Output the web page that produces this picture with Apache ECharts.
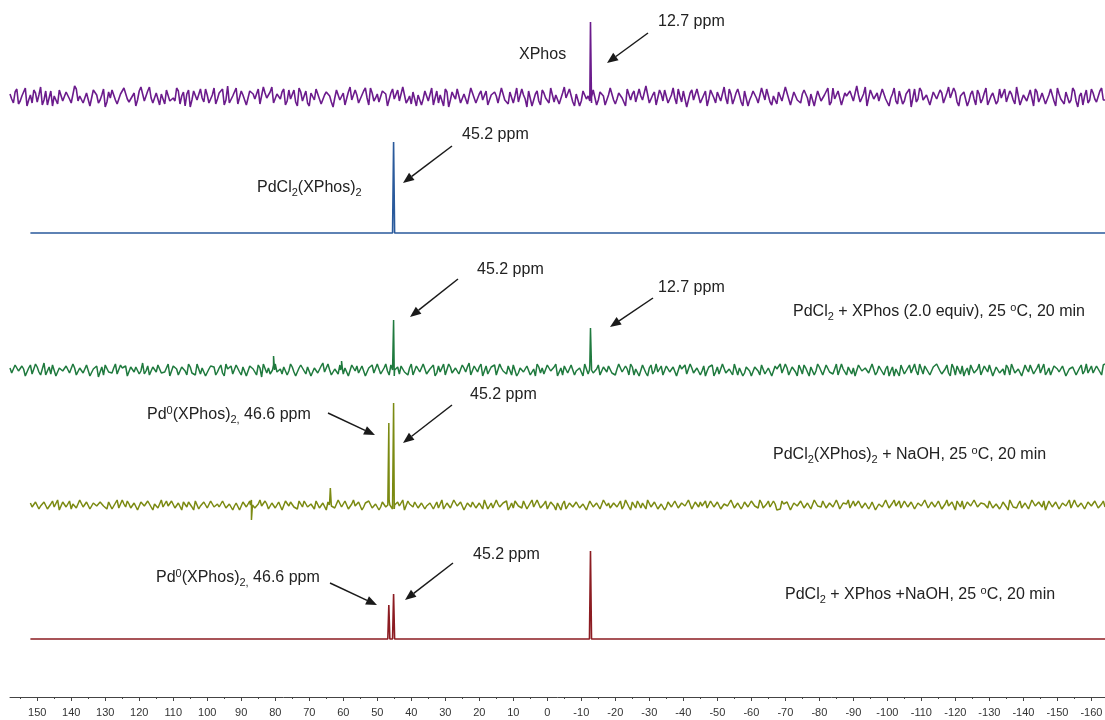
<!DOCTYPE html>
<html><head><meta charset="utf-8">
<script src="https://cdn.jsdelivr.net/npm/echarts@6/dist/echarts.min.js"></script>
<style>html,body{margin:0;padding:0;background:#fff}#c{width:1105px;height:720px}</style>
</head><body><div id="c"></div>
<script>
// ---- axis ticks (ppm) ----
const xTickLabels = [150,140,130,120,110,100,90,80,70,60,50,40,30,20,10,0,-10,-20,-30,-40,-50,-60,-70,-80,-90,-100,-110,-120,-130,-140,-150,-160];
const xMinorTicks = [155,145,135,125,115,105,95,85,75,65,55,45,35,25,15,5,-5,-15,-25,-35,-45,-55,-65,-75,-85,-95,-105,-115,-125,-135,-145,-155];

// ---- baseline noise: A = values at whole ppm from start, B = values half a ppm further ----
const purpleStart = 158;
const purpleNoiseA = [
3,-6,8,-4,5,-9,2,7,-5,10,-3,-8,6,1,-7,9,-2,4,-6,11,
-4,3,-8,6,-1,9,-6,2,-10,5,7,-3,-7,4,8,-5,1,-9,6,3,
-2,10,-6,4,-8,2,7,-4,-1,9,-7,5,3,-10,6,-3,8,-5,2,-6,
9,-2,4,-8,11,-4,1,-7,6,3,-9,5,-2,8,-6,4,-3,10,-7,2,
5,-8,7,-1,-5,9,-4,6,-9,3,8,-2,-6,5,1,-10,7,-3,4,-7,
10,-5,2,-8,6,-1,9,-4,3,-6,8,-9,4,-2,7,-5,11,-3,-7,5,
2,-8,6,-4,9,-1,-6,3,8,-10,5,-2,7,-4,1,-8,10,-6,3,-3,
6,-9,4,1,-7,8,-2,5,-6,9,-4,2,-10,7,-3,6,-8,4,-1,9,
-5,3,-7,10,-2,6,-9,4,-4,8,1,-6,7,-3,5,-8,2,9,-7,4,
-1,-9,6,3,-5,8,-3,11,-6,2,-8,7,-4,5,-2,9,-7,1,6,-10,
4,-3,8,-6,2,-9,7,-1,5,-4,10,-7,3,-2,8,-5,6,-9,1,4,
-6,9,-3,7,-8,2,5,-4,10,-2,-7,6,-5,3,8,-9,4,-1,7,-6,
2,-8,9,-3,5,-7,1,6,-4,11,-5,3,-9,7,-2,4,-6,8,-3,-1,
9,-7,5,-4,2,-10,8,-2,6,-5,3,-8,7,-1,4,-6,10,-3,5,-9,
2,7,-4,6,-8,3,-2,9,-6,4,-7,8,1,-5,6,-3,10,-8,2,-4,
7,-9,5,-1,3,-6,8,-4,9,-2,-7,5,-3,6,-10,4,1,-6,8,-2,
-5,9,-3,6,-8,2,4,-7,10,-4,3,-6,7,-1,-9,5,2,-4,8,-6];
const purpleNoiseB = [
-2,5,-7,1,9,-3,-6,4,2,-8,6,-1,-9,3,7,-4,5,-2,-5,8,
1,-6,4,-9,7,2,-3,8,-5,-1,6,-7,3,9,-2,-6,4,-3,10,-4,
6,-1,-8,5,3,-7,9,-2,-4,6,1,-9,7,-3,5,-5,-1,8,-6,2,
-7,4,8,-3,-6,1,9,-5,2,-8,6,3,-4,-7,10,-1,5,-6,3,-2,
8,-4,-2,7,-9,5,1,-6,4,-3,9,-7,2,6,-5,-1,8,-4,-8,5,
-3,7,-6,2,9,-8,4,-1,-5,6,3,-7,8,-2,-4,10,-6,1,5,-9,
4,-2,7,-5,-8,6,2,-9,5,-3,1,8,-6,3,-7,9,-1,-4,6,-5,
-8,2,5,-6,9,-3,-7,4,1,-5,8,-2,6,-9,3,-4,7,-1,-6,10,
2,-7,4,-1,8,-5,3,-9,6,-2,-4,7,-8,5,1,-6,9,-3,-2,6,
-5,8,-3,6,-7,1,-4,9,-2,5,-9,3,7,-6,2,-1,8,-5,4,-8,
7,-4,1,-8,6,-2,9,-6,3,-5,-1,8,-7,4,2,-9,5,-3,6,-1,
-6,3,8,-5,1,-7,4,-2,9,-8,5,-3,-6,7,-1,3,-9,6,-4,2,
9,-5,-2,6,-8,4,-1,7,-6,2,-3,10,-7,5,1,-4,8,-2,-9,3,
-4,6,-7,3,8,-1,-5,9,-3,2,-8,5,-2,7,-6,4,-1,9,-5,1,
5,-9,3,-2,7,-6,4,-8,1,6,-4,-1,8,-5,3,-7,9,-3,2,-6,
-1,8,-5,4,-7,2,6,-9,3,-2,5,-6,9,-4,1,-8,7,-3,4,-5,
6,-3,-8,5,2,-6,9,-1,-4,7,-5,3,-9,8,-2,4,-7,1,6,-3];

const greenStart = 158;
const greenNoiseA = [
2,-4,6,-3,1,-6,5,-2,3,-5,7,-1,-4,4,-6,3,0,5,-3,2,
-5,4,-2,6,-4,1,-7,3,5,-2,-3,6,-5,2,4,-6,1,3,-4,7,
-1,-5,3,-2,6,-4,2,-6,4,1,-3,5,-5,3,-1,6,-4,2,-6,4,
3,-2,5,-6,1,4,-3,6,-5,2,-4,3,-1,5,-7,4,2,-3,6,-2,
-4,5,-1,3,-6,2,6,-4,1,-5,4,-2,7,-3,0,-5,3,5,-4,2,
-6,3,4,-2,5,-5,1,-3,6,-4,2,-1,5,-6,3,4,-2,-5,6,-3,
1,-4,5,-2,3,-6,4,-1,-5,6,-3,2,-4,5,-2,7,-5,1,3,-6,
4,-3,2,-5,6,-1,-4,3,5,-6,2,-2,4,-5,1,6,-3,-4,5,-1,
3,-6,2,4,-3,5,-5,1,-2,6,-4,3,-1,5,-6,2,4,-3,-5,6,
-2,4,-5,3,1,-6,5,-3,2,-4,6,-1,-5,4,-2,3,-6,5,1,-4,
6,-3,2,-5,4,-1,5,-6,3,-2,4,-4,1,6,-5,2,-3,5,-6,3,
-1,5,-4,2,-6,4,1,-3,6,-5,3,-2,5,-4,2,-6,4,-1,3,-5,
5,-2,-4,6,-3,1,-5,4,2,-6,5,-3,1,-4,6,-2,3,-5,4,-1,
-6,3,5,-4,2,-3,6,-5,1,4,-2,-6,3,5,-4,1,-3,6,-5,2,
4,-1,-5,3,-2,6,-4,2,5,-6,3,-3,1,5,-5,4,-2,3,-6,1,
5,-4,2,-3,6,-2,-5,4,1,-4,6,-6,3,2,-5,5,-1,-3,4,-2,
3,-5,6,-1,-4,4,-3,5,-6,2,1,-5,4,-2,6,-4,3,-1,-5,5];
const greenNoiseB = [
-3,5,-1,4,-6,2,-4,6,-2,1,-5,3,5,-6,2,-1,4,-3,6,-5,
2,-3,5,-6,1,4,-2,-5,6,-3,2,-4,5,1,-6,3,-2,5,-1,-4,
4,-6,1,5,-3,-2,6,-4,2,-5,3,-1,6,-3,-5,4,2,-6,1,3,
-5,2,-3,6,-1,-4,5,-2,3,-6,4,1,-5,2,6,-3,-4,5,-2,1,
3,-5,6,-2,-4,5,-1,3,-6,2,-3,4,-2,6,-5,1,-4,3,2,-6,
5,-1,-3,4,-6,2,5,-4,1,-2,6,-5,3,-1,-4,6,-3,2,-5,4,
-2,6,-4,1,5,-3,-2,6,-5,3,-1,4,-6,2,3,-5,4,-2,6,-1,
-4,3,5,-6,2,-1,4,-5,6,-3,1,-4,5,-2,-6,3,2,-5,4,-3,
6,-2,-5,3,-4,6,-1,2,-6,4,5,-3,1,-5,3,-2,6,-4,1,5,
-3,1,6,-5,2,-4,3,-6,5,-1,-2,4,-5,6,-3,2,-4,1,5,-6,
2,-5,4,-1,-6,3,5,-2,-4,6,-3,1,-5,4,2,-6,3,-1,-4,5,
-5,6,-2,3,-4,1,6,-5,2,-3,4,-6,1,5,-2,3,-5,6,-1,-3,
4,-3,1,-5,6,-2,3,-4,-6,5,-1,2,-3,6,-5,4,-2,1,-6,3,
1,-6,4,-2,5,-3,-1,6,-4,2,-5,3,6,-1,-3,5,-6,2,4,-4,
-6,2,5,-3,1,-5,4,-2,6,-4,3,-1,-5,2,6,-3,1,-6,5,-2,
3,-4,6,-1,-5,2,-3,5,-2,4,-6,1,3,-5,2,-4,6,-2,-3,4,
-2,5,-6,3,2,-4,1,-5,6,-3,4,-2,-6,5,-1,3,-4,6,-5,2];

const oliveStart = 152;
const oliveNoiseA = [
2,-3,4,-1,3,-4,1,-2,5,-3,2,-1,-4,3,-2,4,-3,1,-5,3,
-2,4,-1,3,-4,2,-3,5,-2,1,-4,3,-1,4,-3,2,-5,3,1,-2,
4,-3,2,-4,1,3,-2,4,-5,2,-1,3,-3,4,-2,1,-4,5,-2,3,
-1,2,-4,3,-2,5,-3,1,-1,4,-4,2,-3,3,-5,4,-1,2,-3,4,
-2,3,-4,1,4,-3,2,-5,3,-1,-2,4,-3,2,-4,5,-1,3,-2,1,
3,-4,2,-2,5,-3,1,-4,3,2,-5,4,-1,3,-3,2,-4,1,4,-2,
-3,5,-1,2,-4,3,-2,4,-5,1,3,-3,2,-4,4,-1,-3,5,-2,2,
4,-2,-3,3,-1,4,-4,2,-2,5,-3,1,-4,3,-1,2,-5,4,-2,3,
-1,3,-4,2,-3,4,-2,1,-5,3,2,-3,4,-1,-4,5,-2,3,-3,1,
2,-4,3,-1,4,-3,1,-2,5,-4,2,-3,3,-2,4,-5,1,3,-1,-3,
4,-2,3,-4,1,-1,5,-3,2,-4,3,-2,4,-1,-3,2,-5,4,-2,1,
-3,4,-1,3,-4,2,-2,5,-3,1,-4,3,-1,4,-3,2,-2,5,-4,2,
1,-3,4,-2,3,-5,2,-1,4,-3,1,-4,3,-2,5,-1,-3,4,-2,3,
-4,2,-1,5,-3,3,-2,4,-4,1,-1,3,-5,2,4,-3,1,-2,3,-4,
2,-1,4,-3,1,-4,3,-2,5,-2,-3,4,-1,2,-4,3,-3,1,4,-5,
3,-2,1,-4,4,-1,-3,5,-2,2,-4,3,-1,4,-3,1,-2,3,-5,4];
const oliveNoiseB = [
-2,3,-4,1,2,-3,4,-1,-5,3,-2,4,1,-3,5,-2,3,-4,2,-1,
3,-1,-4,2,-3,5,-2,1,4,-3,2,-5,3,-1,4,-2,1,-3,5,-4,
-1,4,-3,2,-5,1,3,-2,4,-4,1,2,-3,5,-1,-2,4,-3,1,-5,
2,-5,3,-2,4,-1,-3,5,-2,1,-4,3,-1,4,-5,2,3,-2,-4,1,
4,-2,1,-4,3,-5,2,3,-1,-3,5,-2,4,-4,1,-1,3,-5,2,4,
-3,1,-5,3,-2,4,-4,2,-1,5,-3,1,-2,4,-5,3,-1,2,-4,3,
1,-4,2,-3,5,-1,3,-5,2,-2,4,-3,1,5,-4,2,-3,1,-2,4,
-5,2,4,-1,-3,3,-2,5,-4,1,-1,4,-3,2,-5,3,1,-4,2,-2,
3,-3,1,-5,4,-2,2,-4,5,-1,-3,2,-2,4,-1,3,-5,1,4,-3,
-1,5,-2,3,-4,1,-5,3,-2,4,-3,2,-1,5,-4,3,-2,-1,4,-3,
2,-4,5,-2,3,-3,1,-5,4,-1,2,-4,3,-2,5,-3,1,-2,4,-5,
-4,1,3,-5,2,-1,4,-3,2,-4,5,-1,-2,3,-5,4,-3,1,-1,3,
5,-2,-1,4,-3,2,-4,3,-5,1,-2,5,-3,2,-1,4,-4,3,-2,1,
-3,4,-2,1,-5,3,-1,2,-4,5,-3,1,4,-2,-4,3,-1,5,-2,2,
1,-3,5,-4,2,-1,3,-5,4,-2,1,-3,2,-4,5,-1,3,-2,-5,4,
-2,3,-4,2,-1,5,-3,1,-2,4,-5,2,-3,3,-1,4,-4,2,1,-3];

// quiet baselines (ppm, intensity)
const blueBaseline = [[152,0],[-164,0]];
const redBaseline = [[152,0],[-164,0]];

// ---- peaks: [ppm, height] ----
const purplePeaks = [[-12.7, 75]];
const bluePeaks = [[45.2, 91]];
const greenPeaks = [[45.2, 50], [-12.7, 42], [80.5, 14], [60.5, 9]];
const olivePeaks = [[46.6, 82], [45.2, 102], [63.8, 17], [87.0, -15]];
const redPeaks = [[46.6, 34], [45.2, 45], [-12.7, 88]];

const X_MIN = -164, X_MAX = 158;

function noisePoints(a, b, start) {
  const pts = [];
  a.forEach((v, i) => { const p = start - i; if (p >= X_MIN) pts.push([p, v]); });
  b.forEach((v, i) => { const p = start - i - 0.5; if (p >= X_MIN) pts.push([p, v]); });
  return pts;
}
function spectrum(base, peaks, offset) {
  const pts = base.slice();
  peaks.forEach(([p, h]) => { pts.push([p + 0.3, 0], [p, h], [p - 0.3, 0]); });
  pts.sort((a, b) => b[0] - a[0]);
  return pts.map(([p, v]) => [p, v + offset]);
}

const specs = [
  {name:'XPhos', color:'#6b1b8c', data: spectrum(noisePoints(purpleNoiseA, purpleNoiseB, purpleStart), purplePeaks, 600), w:1.6},
  {name:'PdCl2(XPhos)2', color:'#2a5a9c', data: spectrum(blueBaseline, bluePeaks, 464), w:1.6},
  {name:'PdCl2 + XPhos', color:'#1f7a3e', data: spectrum(noisePoints(greenNoiseA, greenNoiseB, greenStart), greenPeaks, 327), w:1.5},
  {name:'PdCl2(XPhos)2 + NaOH', color:'#7b8a12', data: spectrum(noisePoints(oliveNoiseA, oliveNoiseB, oliveStart), olivePeaks, 192), w:1.5},
  {name:'PdCl2 + XPhos + NaOH', color:'#8c1c22', data: spectrum(redBaseline, redPeaks, 58), w:1.6}
];

const FONT = '"Liberation Sans", Arial, Helvetica, sans-serif';
const rich = {
  s: {fontSize: 11, lineHeight: 11, verticalAlign: 'bottom', fontFamily: FONT, fill: '#222'},
  u: {fontSize: 11, lineHeight: 11, verticalAlign: 'top', fontFamily: FONT, fill: '#222'}
};
function txt(x, y, t) {
  return {type:'text', x, y, z:100,
    style:{text:t, fontFamily:FONT, fontSize:16, lineHeight:20, fill:'#222', verticalAlign:'middle', align:'left', rich}};
}
function arrow(x1, y1, x2, y2) {
  const dx = x2 - x1, dy = y2 - y1, L = Math.hypot(dx, dy), ux = dx / L, uy = dy / L, hl = 11, hw = 4.5;
  const bx = x2 - ux * hl, by = y2 - uy * hl;
  return [
    {type:'line', z:100, shape:{x1, y1, x2:bx, y2:by}, style:{stroke:'#1a1a1a', lineWidth:1.5}},
    {type:'polygon', z:100, shape:{points:[[x2, y2], [bx - uy * hw, by + ux * hw], [bx + uy * hw, by - ux * hw]]}, style:{fill:'#1a1a1a'}}
  ];
}

const graphics = [
  txt(519, 55, 'XPhos'),
  txt(658, 22, '12.7 ppm'),
  ...arrow(648, 33, 607, 63),
  txt(462, 135, '45.2 ppm'),
  txt(257, 188, 'PdCl{s|2}(XPhos){s|2}'),
  ...arrow(452, 146, 403, 183),
  txt(477, 270, '45.2 ppm'),
  ...arrow(458, 279, 410, 317),
  txt(658, 288, '12.7 ppm'),
  ...arrow(653, 298, 610, 327),
  txt(793, 312, 'PdCl{s|2} + XPhos (2.0 equiv), 25 {u|o}C, 20 min'),
  txt(147, 415, 'Pd{u|0}(XPhos){s|2,} 46.6 ppm'),
  ...arrow(328, 413, 375, 435),
  txt(470, 395, '45.2 ppm'),
  ...arrow(452, 405, 403, 443),
  txt(773, 455, 'PdCl{s|2}(XPhos){s|2} + NaOH, 25 {u|o}C, 20 min'),
  txt(156, 578, 'Pd{u|0}(XPhos){s|2,} 46.6 ppm'),
  ...arrow(330, 583, 377, 605),
  txt(473, 555, '45.2 ppm'),
  ...arrow(453, 563, 405, 600),
  txt(785, 595, 'PdCl{s|2} + XPhos +NaOH, 25 {u|o}C, 20 min')
];

const chart = echarts.init(document.getElementById('c'), null, {renderer:'canvas'});
chart.setOption({
  animation: false,
  backgroundColor: '#fff',
  grid: {left: 10, right: 0, top: 0, bottom: 23, containLabel: false, outerBoundsMode: 'none'},
  xAxis: [
    {type:'value', min:X_MIN, max:X_MAX, inverse:true, position:'bottom', offset:0,
     axisLine:{show:true, lineStyle:{color:'#444', width:1}},
     axisTick:{show:true, customValues:xTickLabels, length:4, lineStyle:{color:'#444'}},
     axisLabel:{show:true, customValues:xTickLabels, color:'#333', fontFamily:FONT, fontSize:11, margin:10},
     splitLine:{show:false}},
    {type:'value', min:X_MIN, max:X_MAX, inverse:true, position:'bottom', offset:0,
     axisLine:{show:false},
     axisTick:{show:true, customValues:xMinorTicks, length:2, lineStyle:{color:'#444'}},
     axisLabel:{show:false, customValues:xMinorTicks},
     splitLine:{show:false}}
  ],
  yAxis: {type:'value', min:0, max:697, show:false},
  series: specs.map(s => ({
    type:'line', name:s.name, xAxisIndex:0, data:s.data, showSymbol:false, symbol:'none',
    lineStyle:{color:s.color, width:s.w}, itemStyle:{color:s.color}, silent:true
  })),
  graphic: graphics
});
</script>
</body></html>
